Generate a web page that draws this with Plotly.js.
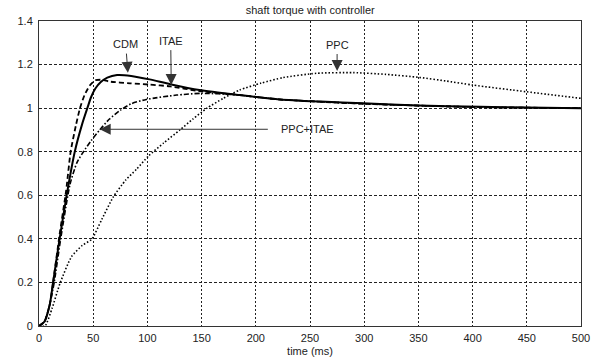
<!DOCTYPE html>
<html>
<head>
<meta charset="utf-8">
<script src="https://cdn.plot.ly/plotly-3.0.1.min.js"></script>
<style>html,body{margin:0;padding:0;background:#fff;}#chart{width:606px;height:361px;}</style>
</head>
<body>
<div id="chart"></div>
<script>
// ---- data ----
const cdmT = [0, 5, 10, 13, 19, 25.5, 33, 40, 44.6, 48, 52, 57, 63, 72, 85, 102, 121, 148, 185, 222, 260, 299, 350, 407, 450, 500];
const cdmV = [0, 0.02, 0.1, 0.2, 0.4, 0.6, 0.8, 0.93, 1.0, 1.05, 1.09, 1.12, 1.14, 1.152, 1.148, 1.132, 1.11, 1.083, 1.06, 1.04, 1.03, 1.022, 1.012, 1.006, 1.003, 1.0];

const itaeT = [0, 5, 10, 13, 19, 25, 29.2, 34, 37.8, 42, 47, 52, 58, 65, 84, 102, 121, 148, 185, 222, 300, 400, 500];
const itaeV = [0, 0.02, 0.1, 0.2, 0.42, 0.62, 0.8, 0.92, 1.0, 1.06, 1.105, 1.128, 1.13, 1.122, 1.114, 1.108, 1.10, 1.078, 1.06, 1.04, 1.02, 1.005, 1.0];

const ppcItaeT = [0, 5, 10, 14, 20, 28.6, 35, 41, 48, 56, 65, 75, 85, 99, 127, 150, 180, 222, 300, 400, 500];
const ppcItaeV = [0, 0.02, 0.1, 0.2, 0.4, 0.65, 0.75, 0.8, 0.85, 0.9, 0.95, 0.99, 1.02, 1.04, 1.06, 1.068, 1.062, 1.04, 1.02, 1.005, 1.0];

const ppcT = [0, 5.5, 12, 19.4, 30, 40, 48.6, 58, 68.6, 80, 90, 101, 115, 130, 142, 155, 170, 185, 205, 225, 256, 290, 320, 351, 375, 400, 450, 500];
const ppcV = [0, 0, 0.08, 0.196, 0.318, 0.37, 0.398, 0.49, 0.593, 0.67, 0.72, 0.78, 0.84, 0.9, 0.95, 1.0, 1.045, 1.083, 1.115, 1.14, 1.16, 1.163, 1.155, 1.141, 1.125, 1.106, 1.075, 1.045];

const xTicks = [0, 50, 100, 150, 200, 250, 300, 350, 400, 450, 500];
const yTicks = [0, 0.2, 0.4, 0.6, 0.8, 1, 1.2, 1.4];
const yTickText = ['0', '0.2', '0.4', '0.6', '0.8', '1', '1.2', '1.4'];

// annotation labels: [text, tipT, tipV, textT, textV]
const labels = [
  ['CDM', 82, 1.162, 80, 1.294],
  ['ITAE', 122, 1.106, 121.5, 1.31],
  ['PPC', 275, 1.17, 275, 1.292],
  ['PPC+ITAE', 56, 0.903, 248, 0.903]
];

const titleText = 'shaft torque with controller';
const xTitle = 'time (ms)';

// ---- chart ----
const lineBase = {type: 'scatter', mode: 'lines', hoverinfo: 'skip', showlegend: false};
const traces = [
  Object.assign({}, lineBase, {x: ppcT, y: ppcV, line: {color: '#000', width: 1.6, dash: '1.5px,2px', shape: 'spline', smoothing: 0.6}}),
  Object.assign({}, lineBase, {x: ppcItaeT, y: ppcItaeV, line: {color: '#000', width: 1.6, dash: '5px,2px,1.5px,2px', shape: 'spline', smoothing: 0.6}}),
  Object.assign({}, lineBase, {x: itaeT, y: itaeV, line: {color: '#000', width: 1.8, dash: '5px,3px', shape: 'spline', smoothing: 0.6}}),
  Object.assign({}, lineBase, {x: cdmT, y: cdmV, line: {color: '#000', width: 2, shape: 'spline', smoothing: 0.6}})
];

const annotations = labels.map(function (l) {
  return {
    text: l[0], x: l[1], y: l[2], xref: 'x', yref: 'y',
    ax: l[3], ay: l[4], axref: 'x', ayref: 'y',
    showarrow: true, arrowhead: 2, arrowsize: 2.2, arrowwidth: 1, arrowcolor: '#333',
    standoff: 0, startstandoff: l[0] === 'PPC+ITAE' ? 12 : 2,
    font: {family: 'Liberation Sans, Arial, sans-serif', size: 11, color: '#222'}
  };
});

const axisFont = {family: 'Liberation Sans, Arial, sans-serif', size: 11, color: '#222'};

const layout = {
  width: 606, height: 361,
  margin: {l: 39, r: 25, t: 21, b: 35, pad: 0},
  paper_bgcolor: '#fff', plot_bgcolor: '#fff',
  title: {text: titleText, font: {family: 'Liberation Sans, Arial, sans-serif', size: 11, color: '#222'}, x: 0.512, xanchor: 'center', y: 0.972, yanchor: 'middle'},
  xaxis: {
    range: [0, 500], tickvals: xTicks, ticktext: xTicks.map(String),
    showgrid: true, gridcolor: '#222', gridwidth: 1, griddash: '2px,2px',
    showline: true, linecolor: '#333', linewidth: 1, mirror: true,
    zeroline: false, ticks: '', tickfont: axisFont, ticklabelstandoff: 2,
    title: {text: xTitle, font: axisFont, standoff: 4}
  },
  yaxis: {
    range: [0, 1.4], tickvals: yTicks, ticktext: yTickText,
    showgrid: true, gridcolor: '#222', gridwidth: 1, griddash: '3px,2px',
    showline: true, linecolor: '#333', linewidth: 1, mirror: true,
    zeroline: false, ticks: '', tickfont: axisFont, ticklabelstandoff: 3
  },
  annotations: annotations
};

Plotly.newPlot('chart', traces, layout, {staticPlot: true, displayModeBar: false});
</script>
</body>
</html>
